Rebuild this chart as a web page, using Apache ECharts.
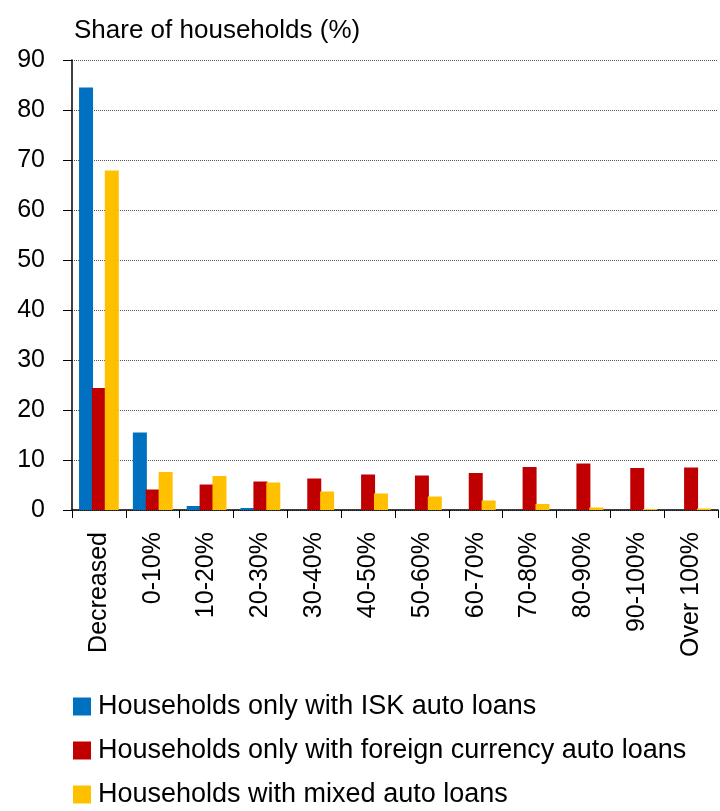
<!DOCTYPE html>
<html>
<head>
<meta charset="utf-8">
<script src="https://cdn.jsdelivr.net/npm/echarts@6/dist/echarts.min.js"></script>
<style>
html,body{margin:0;padding:0;background:#fff;}
#main{width:720px;height:811px;}
</style>
</head>
<body>
<div id="main"></div>
<script>
var categories = ['Decreased','0-10%','10-20%','20-30%','30-40%','40-50%','50-60%','60-70%','70-80%','80-90%','90-100%','Over 100%'];
var iskData = [84.5, 15.5, 0.8, 0.4, 0, 0, 0, 0, 0, 0, 0, 0];
var foreignData = [24.4, 4.1, 5.1, 5.7, 6.3, 7.1, 6.9, 7.4, 8.6, 9.3, 8.4, 8.5];
var mixedData = [67.9, 7.6, 6.8, 5.5, 3.7, 3.3, 2.7, 1.9, 1.2, 0.5, 0.2, 0.3];
var seriesNames = ['Households only with ISK auto loans','Households only with foreign currency auto loans','Households with mixed auto loans'];

var FONT = 'Liberation Sans';
var myChart = echarts.init(document.getElementById('main'));

var option = {
    animation: false,
    textStyle: { fontFamily: FONT, color: '#000' },
    title: {
        text: 'Share of households (%)',
        left: 74, top: 18, padding: 0,
        textStyle: { fontFamily: FONT, fontSize: 26, fontWeight: 'normal', color: '#000' }
    },
    legend: {
        orient: 'vertical',
        left: 73, top: 693, padding: 0,
        itemWidth: 18, itemHeight: 18, itemGap: 17,
        icon: 'rect',
        textStyle: { fontFamily: FONT, fontSize: 27, color: '#000', padding: [0, 0, 0, 2] },
        data: seriesNames
    },
    grid: { left: 72, right: 2, top: 60, bottom: 301, containLabel: false },
    xAxis: {
        type: 'category',
        data: categories,
        axisLine: { lineStyle: { color: '#000', width: 1.5 } },
        axisTick: { show: true, length: 8, lineStyle: { color: '#000' } },
        axisLabel: { rotate: 90, margin: 22, fontSize: 25, color: '#000', fontFamily: FONT, interval: 0 }
    },
    yAxis: {
        type: 'value',
        min: 0, max: 90, interval: 10,
        axisLine: { show: true, lineStyle: { color: '#000', width: 1.5 } },
        axisTick: { show: true, length: 9, lineStyle: { color: '#000' } },
        axisLabel: { margin: 27, fontSize: 25, color: '#000', fontFamily: FONT },
        splitLine: { lineStyle: { color: '#555', type: 'dotted', width: 1 } }
    },
    series: [
        { name: seriesNames[0], type: 'bar', data: iskData, barWidth: 14, barGap: '-8%', itemStyle: { color: '#0070C0' } },
        { name: seriesNames[1], type: 'bar', data: foreignData, barWidth: 14, barGap: '-8%', itemStyle: { color: '#C00000' } },
        { name: seriesNames[2], type: 'bar', data: mixedData, barWidth: 14, barGap: '-8%', itemStyle: { color: '#FFC000' } }
    ]
};
myChart.setOption(option);
</script>
</body>
</html>
